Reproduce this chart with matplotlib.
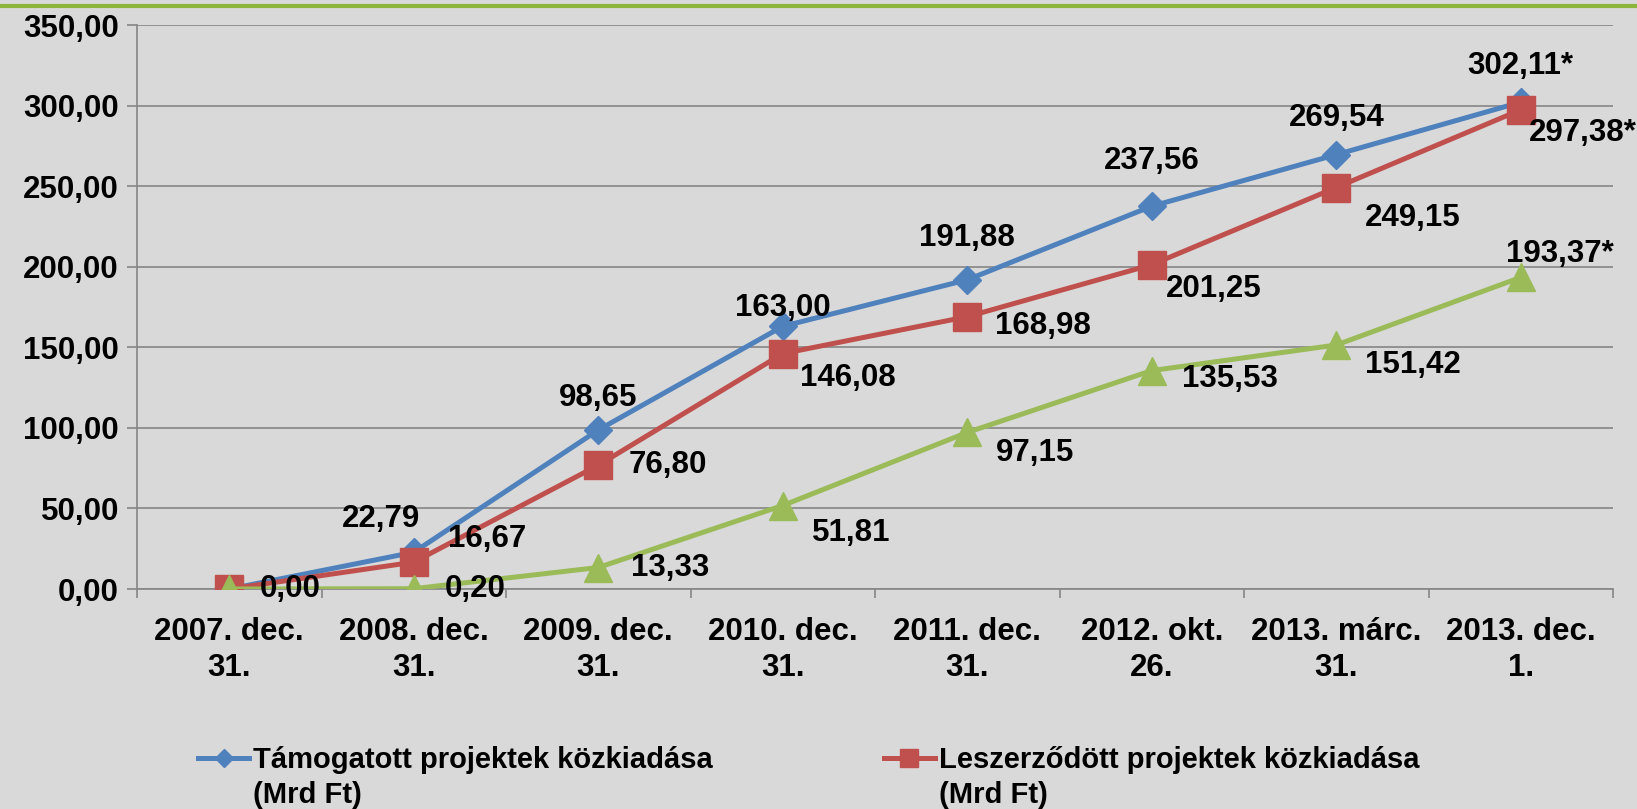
import matplotlib
matplotlib.use('Agg')
import matplotlib.pyplot as plt
from matplotlib.lines import Line2D

plt.rcParams['font.family'] = ['Liberation Sans', 'DejaVu Sans']
plt.rcParams['font.weight'] = 'bold'

categories = ['2007. dec.\n31.', '2008. dec.\n31.', '2009. dec.\n31.', '2010. dec.\n31.',
              '2011. dec.\n31.', '2012. okt.\n26.', '2013. márc.\n31.', '2013. dec.\n1.']
tamogatott = [0.00, 22.79, 98.65, 163.00, 191.88, 237.56, 269.54, 302.11]
leszerzodott = [0.00, 16.67, 76.80, 146.08, 168.98, 201.25, 249.15, 297.38]
kifizetett = [0.00, 0.20, 13.33, 51.81, 97.15, 135.53, 151.42, 193.37]
series_names = ['Támogatott projektek közkiadása\n(Mrd Ft)',
                'Leszerződött projektek közkiadása\n(Mrd Ft)',
                'Kifizetett támogatás\n(Mrd Ft)']
estimated = [False, False, False, False, False, False, False, True]  # '*' after the value

# label offsets in pixels (dx, dy), None = no label
blue_off = [None, (-33, 33), (0, 32), (0, 18), (0, 42), (0, 45), (0, 37), (0, 36)]
red_off = [None, (73, 23), (70, 0), (65, -24), (76, -9), (62, -24), (76, -30), (62, -23)]
green_off = [(61, 0), (61, 0), (72, 0), (68, -27), (68, -21), (78, -8), (77, -20), (39, 23)]

BLUE = '#4f81bd'
RED = '#c0504d'
GREEN = '#9bbb59'
GRID = '#868686'
BG = '#d9d9d9'
FS = 22.5


def fmt(v, star):
    s = '{:.2f}'.format(v).replace('.', ',')
    return s + '*' if star else s


fig = plt.figure(figsize=(16.37, 8.09), dpi=100, facecolor=BG)
ax = fig.add_axes([137 / 1637, 1 - 589 / 809, (1613 - 137) / 1637, (589 - 25) / 809])
ax.set_facecolor(BG)

x = list(range(len(categories)))
ax.plot(x, tamogatott, color=BLUE, lw=3.6, marker='D', ms=14.3, label=series_names[0], zorder=3)
ax.plot(x, leszerzodott, color=RED, lw=3.6, marker='s', ms=20, label=series_names[1], zorder=4)
ax.plot(x, kifizetett, color=GREEN, lw=3.6, marker='^', ms=20, label=series_names[2], zorder=5)

for vals, offs in [(tamogatott, blue_off), (leszerzodott, red_off), (kifizetett, green_off)]:
    for i, v in enumerate(vals):
        if offs[i] is None:
            continue
        ax.annotate(fmt(v, estimated[i]), (i, v), xytext=offs[i], textcoords='offset pixels',
                    ha='center', va='center', fontsize=FS, fontweight='bold', zorder=6)

ax.set_xlim(-0.5, len(categories) - 0.5)
ax.set_ylim(0, 350)
ax.set_yticks(range(0, 351, 50))
ax.set_yticklabels([fmt(t, False) for t in range(0, 351, 50)], fontsize=FS, fontweight='bold')
ax.set_xticks(x)
ax.set_xticklabels(categories, fontsize=FS, fontweight='bold', linespacing=1.25)
ax.set_xticks([i - 0.5 for i in range(len(categories) + 1)], minor=True)
ax.tick_params(axis='x', which='major', length=0, pad=20)
ax.tick_params(axis='x', which='minor', length=6.5, width=1.2, color=GRID, direction='out')
ax.tick_params(axis='y', length=7, width=1.2, color=GRID, pad=6)
ax.yaxis.grid(True, color=GRID, lw=1.2)
ax.set_axisbelow(True)
for side in ['top', 'right']:
    ax.spines[side].set_visible(False)
for side in ['left', 'bottom']:
    ax.spines[side].set_color(GRID)
    ax.spines[side].set_linewidth(1.2)

# green bar at the very top of the slide
fig.add_artist(Line2D([0, 1], [1 - 5.5 / 809, 1 - 5.5 / 809], transform=fig.transFigure,
                      color='#8db53c', lw=3))

# legend runs off the bottom of the slide, only the first row shows
handles, labels = ax.get_legend_handles_labels()
leg = fig.legend(handles[:2], labels[:2], loc='upper left', bbox_to_anchor=(198 / 1637, 1 - 728 / 809),
                 ncol=2, frameon=False, fontsize=21, handlelength=1.75, handleheight=5.3,
                 handletextpad=0.15, columnspacing=5.85, markerscale=0.65,
                 borderaxespad=0, borderpad=0)
for t in leg.get_texts():
    t.set_fontweight('bold')
    t.set_linespacing(1.3)

fig.savefig('out.png', dpi=100, facecolor=BG)
